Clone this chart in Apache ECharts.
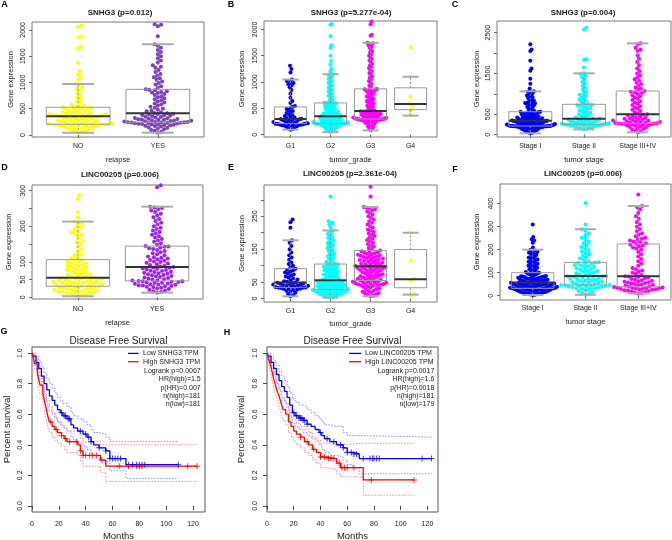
<!DOCTYPE html>
<html><head><meta charset="utf-8">
<script src="https://cdn.jsdelivr.net/npm/echarts@6/dist/echarts.min.js"></script>
<style>html,body{margin:0;padding:0;background:#fff}#c{width:672px;height:540px}</style>
</head><body><div id="c"></div>
<script>
// ================= DATA =================
const relapseCats = ['NO', 'YES'];
const gradeCats = ['G1', 'G2', 'G3', 'G4'];
const stageCats = ['Stage I', 'Stage II', 'Stage III+IV'];

const panelTitles = ['SNHG3 (p=0.012)', 'SNHG3 (p=5.277e-04)', 'SNHG3 (p=0.004)',
  'LINC00205 (p=0.006)', 'LINC00205 (p=2.361e-04)', 'LINC00205 (p=0.006)'];
const panelLetters = ['A', 'B', 'C', 'D', 'E', 'F', 'G', 'H'];

// Panel A: SNHG3 by relapse
const snhg3RelapseNO = [44,55,70,85,95,105,115,125,135,140,148,155,160,166,172,178,182,186,190,194,196,198,200,202,204,
 208,212,216,220,226,232,238,244,250,256,262,268,275,282,290,298,306,314,320,328,335,340,345,350,355,
 358,362,366,370,374,378,382,386,390,395,400,408,416,425,435,445,455,465,475,485,495,505,515,522,528,
 545,560,580,600,640,680,720,760,800,850,880,910,940,972,
 1050,1100,1150,1220,1370,1650,1680,1860,1870,2060,2080];
const snhg3RelapseYES = [44,60,80,95,110,125,140,150,160,170,178,185,190,195,200,205,210,215,220,224,228,232,235,238,240,241,242,
 246,250,255,260,265,270,275,280,285,290,295,300,305,310,318,326,334,342,350,358,366,374,382,390,398,405,412,
 420,435,450,465,480,500,520,540,560,580,600,620,640,660,680,700,720,740,760,780,800,810,820,835,850,860,870,
 900,930,960,990,1020,1050,1080,1100,1130,1160,1200,1240,1280,1300,1330,1380,1420,1460,1500,1540,1580,1620,1660,1700,1728,
 1880,2070,2100,2110];
const snhg3RelapseBox = [[44,204,356,528,972],[44,242,413,870,1728]];

// Panel B: SNHG3 by tumor grade
const snhg3G1 = [95,105,120,135,150,160,168,175,180,185,188,192,195,198,200,204,208,212,218,225,232,240,248,256,264,272,280,286,292,298,
 305,315,325,340,355,370,390,410,430,450,470,490,510,530,545,600,640,700,780,850,900,940,960,980,1000,1020,1048,1180,1250,1310];
const snhg3G2 = [50,60,70,80,90,100,108,115,122,128,134,140,145,150,155,160,164,168,172,176,180,183,186,189,192,195,197,199,201,203,204,205,206,207,208,209,210,
 212,215,218,221,224,227,230,233,236,239,242,246,250,254,258,262,266,270,274,278,282,286,290,294,298,302,306,310,314,318,322,326,330,334,338,342,346,350,
 354,358,362,366,370,375,380,385,390,396,402,408,414,420,428,436,444,452,460,468,476,484,492,500,510,520,530,540,550,560,570,578,585,590,595,600,603,
 620,640,660,680,700,720,740,760,780,800,820,840,860,880,900,920,940,960,980,1000,1020,1040,1060,1080,1100,1120,1135,1150,
 1200,1250,1330,1400,1500,1650,1700,1870,2090,2100];
const snhg3G3 = [82,100,120,140,155,170,182,194,205,215,224,232,240,246,252,258,263,268,272,276,280,283,286,288,290,292,294,295,296,297,298,
 302,306,310,314,318,322,326,330,335,340,345,350,355,360,365,370,375,380,385,390,395,400,405,410,415,420,425,430,435,440,445,450,
 460,475,490,505,520,535,550,565,580,595,610,625,640,655,670,685,700,715,730,745,760,775,790,805,815,825,835,845,852,858,864,870,
 900,930,960,990,1020,1050,1080,1110,1140,1170,1200,1230,1260,1290,1320,1350,1380,1410,1440,1470,1500,1530,1560,1590,1620,1650,1680,1700,1720,1735,1746,
 1880,1900,2100,2150];
const snhg3G4 = [370,460,530,585,720,1100,1650];
const snhg3GradeBox = [[95,210,298,527,1048],[50,210,350,603,1150],[82,298,450,870,1746],[362,476,585,890,1100]];

// Panel C: SNHG3 by tumor stage
const snhg3StageI = [34,45,55,65,75,85,95,105,113,120,127,134,140,146,152,157,162,167,172,176,180,184,188,191,194,197,200,202,204,206,207,208,209,210,211,212,213,
 216,219,222,225,228,231,234,237,240,243,246,249,252,256,260,264,268,272,276,280,284,288,292,296,300,304,308,312,316,320,324,327,330,333,336,339,341,343,
 347,351,355,359,363,367,371,375,380,385,390,395,400,406,412,418,424,430,437,444,451,458,465,472,480,488,496,504,512,520,528,536,544,550,555,560,564,
 580,600,620,640,660,680,700,720,740,750,760,770,780,790,800,820,840,860,880,900,920,940,960,980,1000,1020,1040,1050,1063,
 1130,1250,1370,1570,1620,1810,2050,2090,2220];
const snhg3StageII = [132,145,158,170,180,190,198,205,212,218,224,230,235,240,244,247,250,252,254,255,
 260,266,272,278,284,290,297,304,311,318,325,332,340,348,356,364,372,380,386,392,
 405,420,440,460,480,500,520,540,560,580,600,620,640,660,680,700,715,725,735,745,
 770,800,830,860,890,920,950,980,1010,1050,1100,1150,1200,1250,1300,1350,1400,1440,1480,1504,
 1650,1840,1850,2580,2620];
const snhg3StageIII = [59,80,100,120,140,160,175,190,205,218,228,236,244,250,256,261,266,270,274,277,279,
 285,292,299,306,313,320,330,340,350,360,370,380,390,400,415,430,445,460,475,490,500,
 520,550,580,610,640,670,700,730,760,790,820,850,880,910,940,970,1000,1020,1040,1055,1070,
 1100,1130,1160,1200,1240,1280,1320,1360,1400,1450,1500,1560,1620,1700,1780,1860,1950,2060,2080,2130,2220,2239];
const snhg3StageBox = [[34,213,343,564,1063],[132,255,392,745,1504],[59,279,500,1070,2239]];

// Panel D: LINC00205 by relapse
const lincRelapseNO = [3,5,7,9,11,12,13,14,15,16,17,18,19,20,21,22,23,24,25,26,27,28,29,30,31,
 32,33,34,35,36,37,38,39,40,41,42,43,44,45,46,47,48,49,50,51,52,53,54,55,55,
 57,59,61,63,65,67,69,71,73,75,77,79,81,83,85,87,89,91,93,95,97,99,101,104,106,
 110,114,118,122,128,135,142,150,155,160,170,175,178,182,185,190,195,200,205,210,213,
 225,240,277,288];
const lincRelapseYES = [13,15,17,19,21,23,25,27,29,30,31,32,33,34,35,36,37,38,39,40,41,42,43,44,45,45,46,
 47,48,50,51,53,54,56,57,59,60,62,63,65,66,68,69,71,72,74,75,77,78,80,81,83,84,85,
 87,89,91,93,95,97,99,101,103,105,107,109,111,113,115,118,121,124,127,130,133,136,138,140,142,143,144,
 148,152,156,160,164,168,172,176,180,184,188,192,196,200,205,210,215,220,225,230,235,240,244,248,251,253,255,
 310,315];
const lincRelapseBox = [[3,31,55,106,213],[13,46,85,144,255]];

// Panel E: LINC00205 by tumor grade
const lincG1 = [7,10,14,18,21,24,26,28,29,30,31,32,33,33,34,35,36,37,38,39,40,41,42,43,44,45,46,47,48,49,
 51,53,55,58,61,64,67,70,73,76,79,82,85,88,91,95,100,105,110,118,125,132,140,150,160,170,177,215,232,240];
const lincG2 = [3,4,5,6,7,8,9,10,11,12,13,13,14,15,15,16,17,17,18,19,19,20,21,21,22,22,23,23,24,24,25,25,26,26,27,27,28,
 29,29,30,31,31,32,33,33,34,35,35,36,37,38,38,39,40,40,41,42,43,43,44,45,46,46,47,48,49,49,50,51,52,52,53,54,55,56,
 57,58,60,61,62,64,65,66,68,69,70,72,73,74,76,77,78,80,81,82,84,85,86,88,89,90,92,93,94,96,97,98,100,101,102,104,105,
 108,111,114,117,120,123,126,129,132,135,138,141,144,147,150,153,156,159,162,165,168,171,174,177,180,184,188,192,196,200,204,207,
 215,224,228,230,235,310];
const lincG3 = [7,9,11,13,15,17,19,21,23,25,27,29,31,33,35,37,39,40,41,42,43,44,45,46,47,48,49,50,51,52,53,55,
 56,57,59,60,62,63,65,66,68,69,71,72,74,75,77,78,80,81,83,84,86,87,89,90,91,92,93,94,95,96,97,98,
 99,100,102,103,105,106,108,109,111,112,114,115,117,118,120,121,123,124,126,127,129,130,132,133,135,136,138,139,141,142,144,146,
 150,154,158,162,166,170,174,178,182,186,190,194,198,202,206,210,215,220,225,230,235,240,245,250,255,260,264,268,271,274,276,278,
 310,340];
const lincG4 = [10,15,55,60,115,200];
const lincGradeBox = [[7,34,49,91,177],[3,28,56,105,207],[7,55,98,146,278],[12,33,59,149,200]];

// Panel F: LINC00205 by tumor stage
const lincStageI = [3,4,5,6,7,8,9,10,11,12,13,14,15,16,17,18,19,20,21,21,22,23,24,24,25,26,26,27,28,28,29,29,30,30,31,31,32,
 33,33,34,35,35,36,37,37,38,39,39,40,41,41,42,43,43,44,45,45,46,47,47,48,49,49,50,51,51,52,53,53,54,55,55,56,56,57,
 58,59,60,61,62,63,64,65,66,67,68,69,70,71,72,73,74,75,76,77,78,79,80,81,82,83,84,85,86,88,90,92,94,96,97,98,100,
 103,106,109,112,115,118,121,124,127,130,133,136,139,142,145,148,151,154,157,160,163,166,170,174,178,182,185,188,191,194,197,200,
 210,230,240,245,255,310];
const lincStageII = [4,8,12,16,20,24,27,30,32,34,36,38,39,40,41,42,43,44,45,46,47,
 49,51,53,55,57,59,61,63,65,67,69,71,73,75,77,79,81,83,84,85,86,
 89,92,95,98,101,104,107,110,113,116,119,122,125,128,131,134,137,140,142,144,145,
 150,156,162,168,174,180,186,192,198,205,212,220,228,236,244,252,262,272,282,289,
 310,403];
const lincStageIII = [10,12,14,16,18,20,22,24,26,27,28,29,30,31,32,33,34,35,36,38,39,
 41,43,45,47,49,51,53,55,57,59,61,63,65,67,70,73,76,79,82,84,85,
 90,95,100,105,110,115,120,130,140,150,160,170,180,190,200,205,210,215,218,222,225,
 228,232,236,240,244,248,252,258,265,272,280,290,300,310,320,335,345,360,375,385,390,
 440];
const lincStageBox = [[3,32,57,100,200],[4,47,86,145,289],[10,39,85,225,390]];

// Survival curves (months, survival probability)
const kmTitle = 'Disease Free Survival';
const gLowT  = [0,1,3,5,7,9,11,13,15,17,19,21,23,26,29,31,34,38,41,44,46,50,55,58,70,109];
const gLowS  = [1.0,0.98,0.94,0.90,0.85,0.80,0.76,0.72,0.69,0.66,0.63,0.61,0.59,0.57,0.53,0.51,0.49,0.47,0.45,0.42,0.40,0.38,0.36,0.31,0.27,0.27];
const gLowUp = [1.0,1.0,0.98,0.95,0.91,0.87,0.83,0.80,0.77,0.74,0.71,0.69,0.67,0.65,0.61,0.59,0.57,0.55,0.53,0.50,0.48,0.47,0.45,0.42,0.42,0.42];
const gLowLo = [1.0,0.95,0.90,0.85,0.79,0.73,0.69,0.65,0.61,0.58,0.55,0.53,0.51,0.49,0.45,0.43,0.41,0.39,0.37,0.34,0.32,0.30,0.28,0.23,0.18,0.18];
const gHighT  = [0,1,2,4,5,6,8,9,10,11,12,13,15,17,19,22,24,26,34,36,38,51,55,123];
const gHighS  = [1.0,0.97,0.93,0.87,0.83,0.79,0.74,0.70,0.66,0.62,0.58,0.55,0.52,0.50,0.48,0.46,0.44,0.42,0.40,0.36,0.33,0.30,0.26,0.26];
const gHighUp = [1.0,1.0,0.97,0.92,0.88,0.85,0.80,0.77,0.73,0.69,0.65,0.62,0.60,0.57,0.55,0.53,0.51,0.49,0.48,0.44,0.42,0.40,0.40,0.40];
const gHighLo = [1.0,0.94,0.89,0.82,0.77,0.73,0.68,0.63,0.59,0.55,0.51,0.48,0.45,0.43,0.41,0.39,0.37,0.35,0.33,0.29,0.26,0.22,0.16,0.16];
const gLowCens  = [22,24,25,27,28,36,40,42,44,50,55,58,60,62,64,66,72,75,78,80,82,84,109];
const gHighCens = [14,18,22,25,28,33,36,38,40,43,45,48,52,65,72,78,80,82,116,123];
const gLegend = ['Low SNHG3 TPM', 'High SNHG3 TPM'];
const gStats = ['Logrank p=0.0067', 'HR(high)=1.5', 'p(HR)=0.007', 'n(high)=181', 'n(low)=181'];

const hLowT  = [0,1,3,5,7,9,11,13,15,17,19,21,24,27,30,33,36,39,41,43,47,52,57,60,64,69,123];
const hLowS  = [1.0,0.98,0.94,0.90,0.86,0.82,0.78,0.75,0.71,0.66,0.61,0.59,0.575,0.56,0.535,0.52,0.50,0.48,0.46,0.44,0.42,0.40,0.38,0.35,0.34,0.31,0.31];
const hLowUp = [1.0,1.0,0.98,0.95,0.92,0.88,0.85,0.82,0.78,0.74,0.70,0.68,0.66,0.65,0.63,0.61,0.59,0.57,0.55,0.53,0.52,0.52,0.48,0.46,0.46,0.45,0.45];
const hLowLo = [1.0,0.95,0.90,0.85,0.80,0.76,0.71,0.68,0.64,0.58,0.54,0.52,0.50,0.48,0.46,0.44,0.42,0.40,0.37,0.35,0.33,0.32,0.30,0.27,0.25,0.21,0.21];
const hHighT  = [0,1,2,3,4,5,6,7,8,9,10,11,12,14,16,18,20,22,25,28,31,34,37,40,45,52,55,72,110];
const hHighS  = [1.0,0.97,0.94,0.91,0.87,0.83,0.80,0.77,0.74,0.72,0.69,0.66,0.63,0.60,0.55,0.52,0.49,0.47,0.45,0.42,0.40,0.37,0.35,0.32,0.31,0.28,0.25,0.17,0.17];
const hHighUp = [1.0,1.0,0.98,0.96,0.92,0.89,0.86,0.83,0.80,0.78,0.75,0.72,0.70,0.67,0.62,0.59,0.56,0.54,0.52,0.50,0.48,0.45,0.43,0.41,0.40,0.40,0.41,0.41,0.41];
const hHighLo = [1.0,0.94,0.90,0.86,0.82,0.77,0.74,0.71,0.68,0.65,0.62,0.59,0.56,0.53,0.48,0.45,0.42,0.40,0.38,0.35,0.33,0.30,0.28,0.25,0.24,0.21,0.19,0.07,0.07];
const hLowCens  = [20,22,24,25,26,27,28,30,40,45,50,55,57,60,63,65,67,72,77,79,80,82,84,116,123];
const hHighCens = [25,30,35,40,43,46,48,50,54,56,58,60,65,78,110];
const hLegend = ['Low LINC00205 TPM', 'High LINC00205 TPM'];
const hStats = ['Logrank p=0.0017', 'HR(high)=1.6', 'p(HR)=0.0018', 'n(high)=181', 'n(low)=179'];

const yTicks2000 = [0,500,1000,1500,2000];
const yTicks2500 = [0,500,1000,1500,2000,2500];
const yLabels2500 = [0,500,1500,2500];
const yTicks300 = [0,50,100,150,200,250,300];
const yLabelsD = [0,50,100,200,300];
const yLabelsE = [0,50,150,250];
const yTicks400 = [0,100,200,300,400];
const kmXTicks = [0,20,40,60,80,100,120];
const kmYTicks = [0,0.2,0.4,0.6,0.8,1.0];

// ================= BUILD =================
const FONT = '"Liberation Sans", Arial, Helvetica, sans-serif';
const TXT = '#1a1a1a';
const grids = [], xAxes = [], yAxes = [], series = [], graphics = [];

function swarmOffsets(vals, pxY, dia) {
  const idx = vals.map((v, i) => i).sort((a, b) => vals[a] - vals[b]);
  const placed = []; const off = new Array(vals.length);
  for (const i of idx) {
    const y = vals[i] * pxY;
    const near = placed.filter(p => Math.abs(p.y - y) < dia);
    const cands = [0];
    near.forEach(p => { const dx = Math.sqrt(dia * dia - (p.y - y) * (p.y - y)); cands.push(p.x + dx, p.x - dx); });
    cands.sort((a, b) => Math.abs(a) - Math.abs(b));
    let x = 0;
    for (const c of cands) {
      if (near.every(p => (c - p.x) * (c - p.x) + (p.y - y) * (p.y - y) >= dia * dia - 1e-6)) { x = c; break; }
    }
    placed.push({ x, y }); off[i] = x;
  }
  return off;
}

function boxRenderer(hw) {
  return function (params, api) {
    const x = api.value(0);
    const lo = api.value(1), q1 = api.value(2), md = api.value(3), q3 = api.value(4), hi = api.value(5);
    const c = (a, b) => api.coord([a, b]);
    const tl = c(x - hw, q3), br = c(x + hw, q1);
    const mL = c(x - hw, md), mR = c(x + hw, md);
    const cap = hw / 2;
    const hiL = c(x - cap, hi), hiR = c(x + cap, hi), loL = c(x - cap, lo), loR = c(x + cap, lo);
    const cx = c(x, q3)[0];
    const wStyle = { stroke: '#8c8c8c', lineWidth: 1, lineDash: [2, 2] };
    return { type: 'group', children: [
      { type: 'line', shape: { x1: cx, y1: tl[1], x2: cx, y2: hiL[1] }, style: wStyle },
      { type: 'line', shape: { x1: cx, y1: br[1], x2: cx, y2: loL[1] }, style: wStyle },
      { type: 'line', shape: { x1: hiL[0], y1: hiL[1], x2: hiR[0], y2: hiR[1] }, style: { stroke: '#ababab', lineWidth: 2 } },
      { type: 'line', shape: { x1: loL[0], y1: loL[1], x2: loR[0], y2: loR[1] }, style: { stroke: '#ababab', lineWidth: 2 } },
      { type: 'rect', shape: { x: tl[0], y: tl[1], width: br[0] - tl[0], height: br[1] - tl[1] }, style: { fill: 'none', stroke: '#9a9a9a', lineWidth: 1 } },
      { type: 'line', shape: { x1: mL[0], y1: mL[1], x2: mR[0], y2: mR[1] }, style: { stroke: '#333', lineWidth: 2 } }
    ] };
  };
}

function addText(x, y, text, opt) {
  opt = opt || {};
  graphics.push({ type: 'text', x: x, y: y, silent: true, style: {
    text: text, fontSize: opt.size || 7, fontWeight: opt.bold ? 'bold' : 'normal', fontFamily: FONT,
    fill: opt.color || TXT, align: opt.align || 'center', verticalAlign: 'middle',
    textAlign: opt.align || 'center', textVerticalAlign: 'middle' } });
}

function addBoxPanel(p) {
  const gi = grids.length;
  grids.push({ left: p.rect[0], top: p.rect[1], width: p.rect[2], height: p.rect[3], show: true,
    borderColor: '#7a7a7a', borderWidth: 1, backgroundColor: 'transparent', containLabel: false, outerBoundsMode: 'none' });
  const pos = p.cats.map((c, i) => i + 1);
  xAxes.push({ gridIndex: gi, type: 'value', min: p.x[0], max: p.x[1], axisLine: { show: false }, splitLine: { show: false },
    axisTick: { show: true, length: 3, lineStyle: { color: '#666' }, customValues: pos },
    axisLabel: { customValues: pos, formatter: v => p.cats[Math.round(v) - 1], fontSize: 7, color: TXT, margin: p.xm, fontFamily: FONT },
    name: p.xName, nameLocation: 'middle', nameGap: p.xg, nameTextStyle: { fontSize: 7.5, color: TXT, fontFamily: FONT } });
  yAxes.push({ gridIndex: gi, type: 'value', min: p.y[0], max: p.y[1], axisLine: { show: false }, splitLine: { show: false },
    axisTick: { show: true, length: 3, lineStyle: { color: '#666' }, customValues: p.yTicks },
    axisLabel: { customValues: p.yLabels, formatter: v => String(Math.round(v)), rotate: 90, fontSize: 7, color: TXT, margin: 5, fontFamily: FONT },
    name: 'Gene expression', nameLocation: 'middle', nameRotate: 90, nameGap: p.yg,
    nameTextStyle: { fontSize: 7.5, color: TXT, fontFamily: FONT } });
  const pxY = p.rect[3] / (p.y[1] - p.y[0]);
  const pxX = p.rect[2] / (p.x[1] - p.x[0]);
  p.groups.forEach((vals, k) => {
    let off = swarmOffsets(vals, pxY, 4.1);
    const mx = Math.max.apply(null, off.map(Math.abs));
    const lim = p.half * pxX;
    if (mx > lim) off = off.map(o => o * lim / mx);
    series.push({ type: 'scatter', xAxisIndex: gi, yAxisIndex: gi, symbolSize: 4, silent: true, z: 2,
      itemStyle: { color: p.colors[k], opacity: 1 },
      data: vals.map((v, i) => [k + 1 + off[i] / pxX, v]) });
  });
  series.push({ type: 'custom', xAxisIndex: gi, yAxisIndex: gi, z: 3, silent: true,
    data: p.boxes.map((b, k) => [k + 1].concat(b)), encode: { x: 0, y: [1, 2, 3, 4, 5] },
    renderItem: boxRenderer(0.4) });
}

const plusPath = 'path://M4.2,0H5.8V4.2H10V5.8H5.8V10H4.2V5.8H0V4.2H4.2Z';
function stepAt(T, S, t) { let v = S[0]; for (let i = 0; i < T.length; i++) { if (T[i] <= t) v = S[i]; } return v; }

function addKMPanel(p) {
  const gi = grids.length;
  grids.push({ left: p.rect[0], top: p.rect[1], width: p.rect[2], height: p.rect[3], show: true,
    borderColor: '#555', borderWidth: 1, backgroundColor: 'transparent', containLabel: false, outerBoundsMode: 'none' });
  xAxes.push({ gridIndex: gi, type: 'value', min: 0, max: p.xmax, axisLine: { show: false }, splitLine: { show: false },
    axisTick: { show: true, length: 4, lineStyle: { color: '#444' }, customValues: kmXTicks },
    axisLabel: { customValues: kmXTicks, fontSize: 7, color: TXT, margin: 9, fontFamily: FONT },
    name: 'Months', nameLocation: 'middle', nameGap: 19, nameTextStyle: { fontSize: 9.5, color: TXT, fontFamily: FONT } });
  yAxes.push({ gridIndex: gi, type: 'value', min: -0.04, max: 1.04, axisLine: { show: false }, splitLine: { show: false },
    axisTick: { show: true, length: 4, lineStyle: { color: '#444' }, customValues: kmYTicks },
    axisLabel: { customValues: kmYTicks, rotate: 90, formatter: v => v.toFixed(1), fontSize: 7, color: TXT, margin: 8, fontFamily: FONT },
    name: 'Percent survival', nameLocation: 'middle', nameRotate: 90, nameGap: p.yg,
    nameTextStyle: { fontSize: 9.5, color: TXT, fontFamily: FONT } });
  const curves = [
    { T: p.lowT, S: p.lowS, U: p.lowUp, L: p.lowLo, C: p.lowC, col: '#0000ff', ci: '#7f7fff' },
    { T: p.highT, S: p.highS, U: p.highUp, L: p.highLo, C: p.highC, col: '#ff0000', ci: '#ff8080' }
  ];
  curves.forEach(cv => {
    [cv.U, cv.L].forEach(arr => series.push({ type: 'line', step: 'end', xAxisIndex: gi, yAxisIndex: gi, showSymbol: false, silent: true, z: 2,
      lineStyle: { color: cv.ci, width: 0.9, type: [1.5, 1.5] }, data: cv.T.map((t, i) => [t, arr[i]]) }));
  });
  curves.forEach(cv => {
    series.push({ type: 'line', step: 'end', xAxisIndex: gi, yAxisIndex: gi, showSymbol: false, silent: true, z: 3,
      lineStyle: { color: cv.col, width: 1.3 }, data: cv.T.map((t, i) => [t, cv.S[i]]) });
    series.push({ type: 'scatter', xAxisIndex: gi, yAxisIndex: gi, symbol: plusPath, symbolSize: 6, silent: true, z: 4,
      itemStyle: { color: cv.col }, data: cv.C.map(t => [t, stepAt(cv.T, cv.S, t)]) });
  });
  // title + legend
  addText(p.rect[0] + p.rect[2] / 2, 341, kmTitle, { size: 10 });
  const ly = [353.4, 361.7];
  [0, 1].forEach(k => {
    graphics.push({ type: 'line', silent: true, shape: { x1: p.leg[0], y1: ly[k], x2: p.leg[1], y2: ly[k] },
      style: { stroke: k === 0 ? '#0000ff' : '#ff0000', lineWidth: 1.3 } });
    addText(p.leg[2], ly[k], p.legend[k], { size: 7, align: 'left' });
  });
  const sy = [371, 379.3, 387.6, 396, 404.3];
  p.stats.forEach((s, k) => addText(p.statX, sy[k], s, { size: 7, align: 'right' }));
}

addBoxPanel({ rect: [32, 22, 172, 115], x: [0.42, 2.58], y: [-38, 2152], yTicks: yTicks2000, yLabels: yTicks2000,
  cats: relapseCats, groups: [snhg3RelapseNO, snhg3RelapseYES], colors: ['#ffff00', '#7b3fbf'], boxes: snhg3RelapseBox,
  xName: 'relapse', xm: 5.5, xg: 19, yg: 17, half: 0.42 });
addBoxPanel({ rect: [264, 21, 173, 116], x: [0.34, 4.66], y: [-44, 2160], yTicks: yTicks2000, yLabels: yTicks2000,
  cats: gradeCats, groups: [snhg3G1, snhg3G2, snhg3G3, snhg3G4], colors: ['#0000ff', '#00ffff', '#ff00ff', '#ffff00'], boxes: snhg3GradeBox,
  xName: 'tumor_grade', xm: 5.5, xg: 19, yg: 18, half: 0.43 });
addBoxPanel({ rect: [497, 21, 174, 116], x: [0.38, 3.62], y: [-56, 2787], yTicks: yTicks2500, yLabels: yLabels2500,
  cats: stageCats, groups: [snhg3StageI, snhg3StageII, snhg3StageIII], colors: ['#0000ff', '#00ffff', '#ff00ff'], boxes: snhg3StageBox,
  xName: 'tumor stage', xm: 5.5, xg: 19, yg: 16, half: 0.46 });
addBoxPanel({ rect: [32, 185, 171, 114], x: [0.42, 2.58], y: [-4.8, 316], yTicks: yTicks300, yLabels: yLabelsD,
  cats: relapseCats, groups: [lincRelapseNO, lincRelapseYES], colors: ['#ffff00', '#a020f0'], boxes: lincRelapseBox,
  xName: 'relapse', xm: 7, xg: 20, yg: 19, half: 0.41 });
addBoxPanel({ rect: [264, 185, 173, 117], x: [0.34, 4.66], y: [-10.3, 345], yTicks: yTicks300, yLabels: yLabelsE,
  cats: gradeCats, groups: [lincG1, lincG2, lincG3, lincG4], colors: ['#0000ff', '#00ffff', '#ff00ff', '#ffff00'], boxes: lincGradeBox,
  xName: 'tumor_grade', xm: 5.5, xg: 18, yg: 18, half: 0.44 });
addBoxPanel({ rect: [500, 184, 171, 116], x: [0.38, 3.62], y: [-18.7, 485.6], yTicks: yTicks400, yLabels: yTicks400,
  cats: stageCats, groups: [lincStageI, lincStageII, lincStageIII], colors: ['#0000ff', '#00ffff', '#ff00ff'], boxes: lincStageBox,
  xName: 'tumor stage', xm: 4.5, xg: 18, yg: 19, half: 0.46 });

addKMPanel({ rect: [32, 347, 173, 165], xmax: 128.9, yg: 20,
  lowT: gLowT, lowS: gLowS, lowUp: gLowUp, lowLo: gLowLo, lowC: gLowCens,
  highT: gHighT, highS: gHighS, highUp: gHighUp, highLo: gHighLo, highC: gHighCens,
  legend: gLegend, stats: gStats, leg: [128, 138.5, 143], statX: 200.7 });
addKMPanel({ rect: [267, 347, 171, 165], xmax: 127.9, yg: 21,
  lowT: hLowT, lowS: hLowS, lowUp: hLowUp, lowLo: hLowLo, lowC: hLowCens,
  highT: hHighT, highS: hHighS, highUp: hHighUp, highLo: hHighLo, highC: hHighCens,
  legend: hLegend, stats: hStats, leg: [349, 361, 365], statX: 434.3 });

// titles and panel letters
const titlePos = [[120, 12.7], [351, 12.3], [583, 13], [120, 175], [350, 174], [583, 173.5]];
panelTitles.forEach((t, i) => addText(titlePos[i][0], titlePos[i][1], t, { size: 8, bold: true }));
const letterPos = [[4.5, 5], [231, 5], [455, 5], [4.5, 168], [231, 168], [455, 170], [4, 332], [227, 333]];
panelLetters.forEach((t, i) => addText(letterPos[i][0], letterPos[i][1], t, { size: 9, bold: true, color: '#000' }));

const chart = echarts.init(document.getElementById('c'), null, { renderer: 'canvas' });
chart.setOption({
  animation: false,
  backgroundColor: '#ffffff',
  textStyle: { fontFamily: FONT },
  grid: grids, xAxis: xAxes, yAxis: yAxes, series: series, graphic: graphics
});
</script></body></html>
